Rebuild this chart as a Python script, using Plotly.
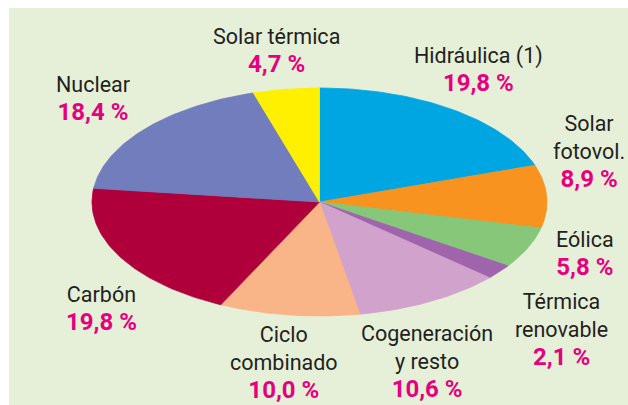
import numpy as np
import plotly.graph_objects as go

# ---- data ----
categories = ["Hidráulica (1)", "Solar fotovol.", "Eólica", "Térmica renovable",
              "Cogeneración y resto", "Ciclo combinado", "Carbón", "Nuclear", "Solar térmica"]
label_lines = ["Hidráulica (1)", "Solar<br>fotovol.", "Eólica", "Térmica<br>renovable",
               "Cogeneración<br>y resto", "Ciclo<br>combinado", "Carbón", "Nuclear", "Solar térmica"]
values = [19.8, 8.9, 5.8, 2.1, 10.6, 10.0, 19.8, 18.4, 4.7]

# ---- style ----
colors = ["#00A6E2", "#F7931E", "#86C77A", "#A064AC", "#D0A2CC",
          "#F9B487", "#B0003B", "#717DBD", "#FFF000"]
label_pos_px = [(478, 70), (589, 152), (585, 254), (561, 330), (427, 362),
                (284, 363), (101, 309), (93, 99), (276, 51)]
W, H = 628, 405
cx_px, cy_px, rx_px, ry_px = 319.5, 202, 227.5, 114
BG = "#E6F0D8"
MAGENTA = "#E6007E"
FONT = "Roboto, sans-serif"

fig = go.Figure()
total = sum(values)
start = 0.0
for name, v, c in zip(categories, values, colors):
    a0 = start / total * 2 * np.pi
    a1 = (start + v) / total * 2 * np.pi
    t = np.linspace(a0, a1, max(int(v * 4), 8))
    xs = np.concatenate([[0], np.sin(t), [0]])
    ys = np.concatenate([[0], np.cos(t), [0]])
    fig.add_trace(go.Scatter(x=xs, y=ys, mode="lines", fill="toself",
                             fillcolor=c, line=dict(color=c, width=0.8),
                             name=name, hoverinfo="name", showlegend=False))
    start += v

annotations = []
for lbl, v, (px, py) in zip(label_lines, values, label_pos_px):
    pct = f"{v:.1f}".replace(".", ",") + " %"
    txt = f"{lbl}<br><span style='color:{MAGENTA};font-size:24px'><b>{pct}</b></span>"
    annotations.append(dict(x=px / W, y=1 - py / H, xref="paper", yref="paper",
                            text=txt, showarrow=False, xanchor="center", yanchor="middle",
                            align="center", font=dict(family=FONT, size=21.5, color="#231F20")))

fig.update_layout(
    width=W, height=H,
    margin=dict(l=0, r=0, t=0, b=0),
    paper_bgcolor="white", plot_bgcolor="rgba(0,0,0,0)",
    xaxis=dict(range=[-cx_px / rx_px, (W - cx_px) / rx_px], visible=False, fixedrange=True),
    yaxis=dict(range=[-(H - cy_px) / ry_px, cy_px / ry_px], visible=False, fixedrange=True),
    shapes=[dict(type="rect", xref="paper", yref="paper", x0=9 / W, x1=1, y0=0, y1=1 - 8 / H,
                 fillcolor=BG, line=dict(width=0), layer="below")],
    annotations=annotations,
)

fig.write_html("out.html", config={"displayModeBar": False},
               post_script="document.body.style.margin='0';document.body.style.overflow='hidden';")
